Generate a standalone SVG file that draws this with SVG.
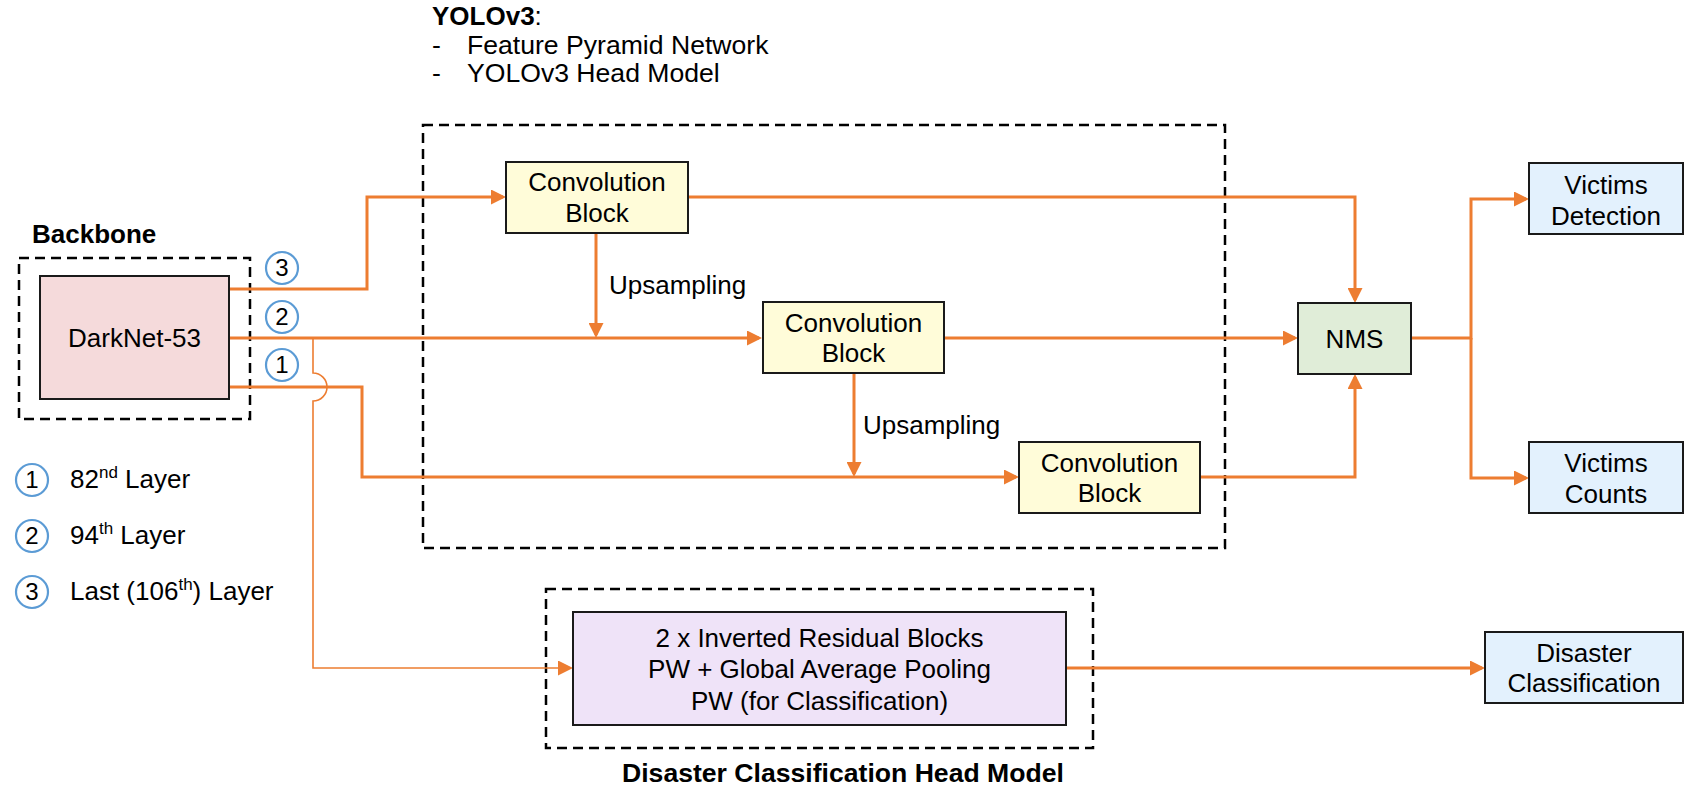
<svg xmlns="http://www.w3.org/2000/svg" width="1691" height="792" viewBox="0 0 1691 792">
  <style>
    text { font-family: "Liberation Sans", Arial, sans-serif; fill: #000; }
    .lbl { font-size: 26px; text-anchor: middle; }
    .plain { font-size: 26px; }
    .list { font-size: 26.6px; }
    .legend { font-size: 26px; }
    .title { font-size: 26px; font-weight: bold; }
    .num { font-size: 24px; text-anchor: middle; }
    .box { stroke: #1a1a1a; stroke-width: 2; }
    .group { fill: none; stroke: #000; stroke-width: 2.5; stroke-dasharray: 10 6; }
    .conn { fill: none; stroke: #ED7D31; stroke-width: 3; }
    .thin { fill: none; stroke: #ED7D31; stroke-width: 1.6; }
    .badge { fill: #fff; stroke: #5B9BD5; stroke-width: 2.2; }
  </style>
  <defs>
    <marker id="arrow" markerUnits="userSpaceOnUse" markerWidth="15" markerHeight="15" refX="12" refY="7.5" orient="auto">
      <path d="M0,0 L15,7.5 L0,15 z" fill="#ED7D31"/>
    </marker>
  </defs>

  <rect width="1691" height="792" fill="#fff"/>

  <!-- group frames and their titles -->
  <g id="frames">
    <rect class="group" x="19" y="258" width="231" height="161"/>
    <text class="title" x="32" y="243">Backbone</text>

    <rect class="group" x="423" y="125" width="802" height="423"/>
    <text x="432" y="25" style="font-size:26px"><tspan font-weight="bold">YOLOv3</tspan>:</text>
    <text class="list" x="432" y="54">-</text>
    <text class="list" x="467" y="54">Feature Pyramid Network</text>
    <text class="list" x="432" y="82">-</text>
    <text class="list" x="467" y="82">YOLOv3 Head Model</text>

    <rect class="group" x="546" y="589" width="547" height="159"/>
    <text class="title" x="622" y="782" style="font-size:26.6px">Disaster Classification Head Model</text>
  </g>

  <!-- connectors -->
  <g id="connectors">
    <path class="conn" d="M229,289 H367 V197 H503" marker-end="url(#arrow)"/>
    <path class="conn" d="M229,338 H759" marker-end="url(#arrow)"/>
    <path class="conn" d="M229,387 H362 V477 H1016" marker-end="url(#arrow)"/>
    <path class="thin" d="M313,338 V373 A14,14 0 0 1 313,401 V668 H570" marker-end="url(#arrow)"/>
    <path class="conn" d="M596,233 V335" marker-end="url(#arrow)"/>
    <path class="conn" d="M854,373 V474" marker-end="url(#arrow)"/>
    <path class="conn" d="M688,197 H1355 V300" marker-end="url(#arrow)"/>
    <path class="conn" d="M944,338 H1295" marker-end="url(#arrow)"/>
    <path class="conn" d="M1200,477 H1355 V377" marker-end="url(#arrow)"/>
    <path class="conn" d="M1411,338 H1471 V199 H1526" marker-end="url(#arrow)"/>
    <path class="conn" d="M1471,338 V478 H1526" marker-end="url(#arrow)"/>
    <path class="conn" d="M1066,668 H1482" marker-end="url(#arrow)"/>
    <text class="plain" x="609" y="294">Upsampling</text>
    <text class="plain" x="863" y="434">Upsampling</text>
  </g>

  <!-- layer taps on the backbone -->
  <g id="taps">
    <circle class="badge" cx="282" cy="268" r="16"/>
    <text class="num" x="282" y="276">3</text>
    <circle class="badge" cx="282" cy="317" r="16"/>
    <text class="num" x="282" y="325">2</text>
    <circle class="badge" cx="282" cy="365" r="16"/>
    <text class="num" x="282" y="373">1</text>
  </g>

  <g id="darknet">
    <rect class="box" x="40" y="276" width="189" height="123" fill="#F5DADB"/>
    <text class="lbl" x="134.5" y="347">DarkNet-53</text>
  </g>

  <g id="conv1">
    <rect class="box" x="506" y="162" width="182" height="71" fill="#FFFCD9"/>
    <text class="lbl" x="597" y="191">Convolution</text>
    <text class="lbl" x="597" y="222">Block</text>
  </g>

  <g id="conv2">
    <rect class="box" x="763" y="302" width="181" height="71" fill="#FFFCD9"/>
    <text class="lbl" x="853.5" y="332">Convolution</text>
    <text class="lbl" x="853.5" y="362">Block</text>
  </g>

  <g id="conv3">
    <rect class="box" x="1019" y="442" width="181" height="71" fill="#FFFCD9"/>
    <text class="lbl" x="1109.5" y="472">Convolution</text>
    <text class="lbl" x="1109.5" y="502">Block</text>
  </g>

  <g id="nms">
    <rect class="box" x="1298" y="303" width="113" height="71" fill="#E0EDD8"/>
    <text class="lbl" x="1354.5" y="348">NMS</text>
  </g>

  <g id="victims-detection">
    <rect class="box" x="1529" y="163" width="154" height="71" fill="#E3F1FD"/>
    <text class="lbl" x="1606" y="194">Victims</text>
    <text class="lbl" x="1606" y="225">Detection</text>
  </g>

  <g id="victims-counts">
    <rect class="box" x="1529" y="442" width="154" height="71" fill="#E3F1FD"/>
    <text class="lbl" x="1606" y="472">Victims</text>
    <text class="lbl" x="1606" y="503">Counts</text>
  </g>

  <g id="classification-head">
    <rect class="box" x="573" y="612" width="493" height="113" fill="#EFE3F8"/>
    <text class="lbl" x="819.5" y="647">2 x Inverted Residual Blocks</text>
    <text class="lbl" x="819.5" y="678">PW + Global Average Pooling</text>
    <text class="lbl" x="819.5" y="710">PW (for Classification)</text>
  </g>

  <g id="disaster-classification">
    <rect class="box" x="1485" y="632" width="198" height="71" fill="#E3F1FD"/>
    <text class="lbl" x="1584" y="662">Disaster</text>
    <text class="lbl" x="1584" y="692">Classification</text>
  </g>

  <!-- legend -->
  <g id="legend">
    <circle class="badge" cx="32" cy="480" r="16"/>
    <text class="num" x="32" y="488">1</text>
    <text class="legend" x="70" y="488">82<tspan font-size="17" dy="-10">nd</tspan><tspan dy="10"> Layer</tspan></text>

    <circle class="badge" cx="32" cy="536" r="16"/>
    <text class="num" x="32" y="544">2</text>
    <text class="legend" x="70" y="544">94<tspan font-size="17" dy="-10">th</tspan><tspan dy="10"> Layer</tspan></text>

    <circle class="badge" cx="32" cy="592" r="16"/>
    <text class="num" x="32" y="600">3</text>
    <text class="legend" x="70" y="600">Last (106<tspan font-size="17" dy="-10">th</tspan><tspan dy="10">) Layer</tspan></text>
  </g>
</svg>
